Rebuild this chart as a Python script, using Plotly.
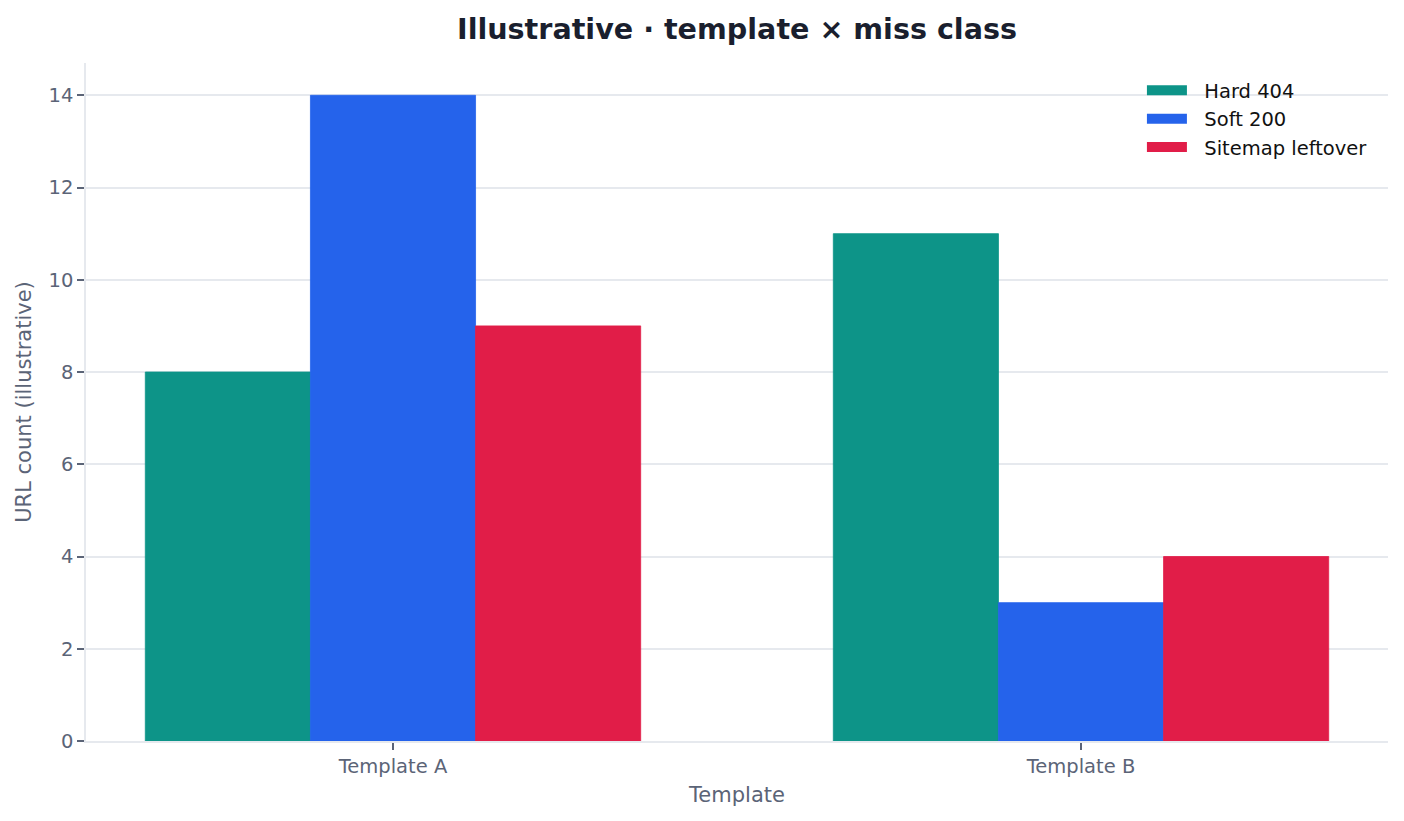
import plotly.graph_objects as go

categories = ["Template A", "Template B"]
series_names = ["Hard 404", "Soft 200", "Sitemap leftover"]
hard_404 = [8, 11]
soft_200 = [14, 3]
sitemap_leftover = [9, 4]
y_ticks = [0, 2, 4, 6, 8, 10, 12, 14]

colors = ["#0d9488", "#2563eb", "#e11d48"]
values = [hard_404, soft_200, sitemap_leftover]

FONT = "DejaVu Sans"
TICK_COLOR = "#5b6477"
GRID_COLOR = "#e6e9ee"

fig = go.Figure()
for name, vals, col in zip(series_names, values, colors):
    fig.add_trace(go.Bar(
        x=categories, y=vals, name=name, marker=dict(color=col, line=dict(width=0.8, color=col)),
        showlegend=False, hoverinfo="x+y+name",
    ))
# legend proxies (wide rectangular swatches)
for name, col in zip(series_names, colors):
    fig.add_trace(go.Scatter(
        x=[None], y=[None], mode="lines", name="\u00a0\u00a0" + name, legendgroup=name,
        line=dict(color=col, width=14), showlegend=True,
    ))

fig.update_layout(
    width=1404, height=821,
    paper_bgcolor="white", plot_bgcolor="white",
    margin=dict(l=86, r=16, t=63, b=80),
    barmode="group", bargap=0.28, bargroupgap=0,
    font=dict(family=FONT, color=TICK_COLOR),
    title=dict(
        text="<b>Illustrative · template × miss class</b>",
        font=dict(family=FONT, size=28.6, color="#1a1f2e"),
        x=0.5, xanchor="center", xref="paper",
        y=1 - 29 / 821, yanchor="middle", yref="container",
    ),
    legend=dict(
        x=0.811, xanchor="left", y=0.988, yanchor="top",
        font=dict(family=FONT, size=19.5, color="#111111"),
        bgcolor="rgba(255,255,255,0)", borderwidth=0,
        tracegroupgap=3.5, itemwidth=40, traceorder="normal",
    ),
    showlegend=True,
)

fig.update_xaxes(
    type="category", range=[-0.4462, 1.4462],
    showline=True, linecolor=GRID_COLOR, linewidth=1.5,
    ticks="outside", ticklen=7, tickwidth=1.5, tickcolor=TICK_COLOR,
    tickfont=dict(family=FONT, size=19.5, color=TICK_COLOR),
    showgrid=False, zeroline=False,
    title=dict(text="Template", font=dict(family=FONT, size=21, color=TICK_COLOR), standoff=10),
)
fig.update_yaxes(
    range=[0, 14.7], tickvals=y_ticks,
    showline=True, linecolor=GRID_COLOR, linewidth=1.5,
    ticks="outside", ticklen=7, tickwidth=1.5, tickcolor=TICK_COLOR,
    tickfont=dict(family=FONT, size=19.5, color=TICK_COLOR),
    showgrid=True, gridcolor=GRID_COLOR, gridwidth=1.6, zeroline=False,
    title=dict(text="URL count (illustrative)", font=dict(family=FONT, size=21, color=TICK_COLOR), standoff=11),
)

fig.write_html(
    "out.html",
    config={"displayModeBar": False},
    post_script="document.body.style.margin='0';document.body.style.padding='0';",
)
